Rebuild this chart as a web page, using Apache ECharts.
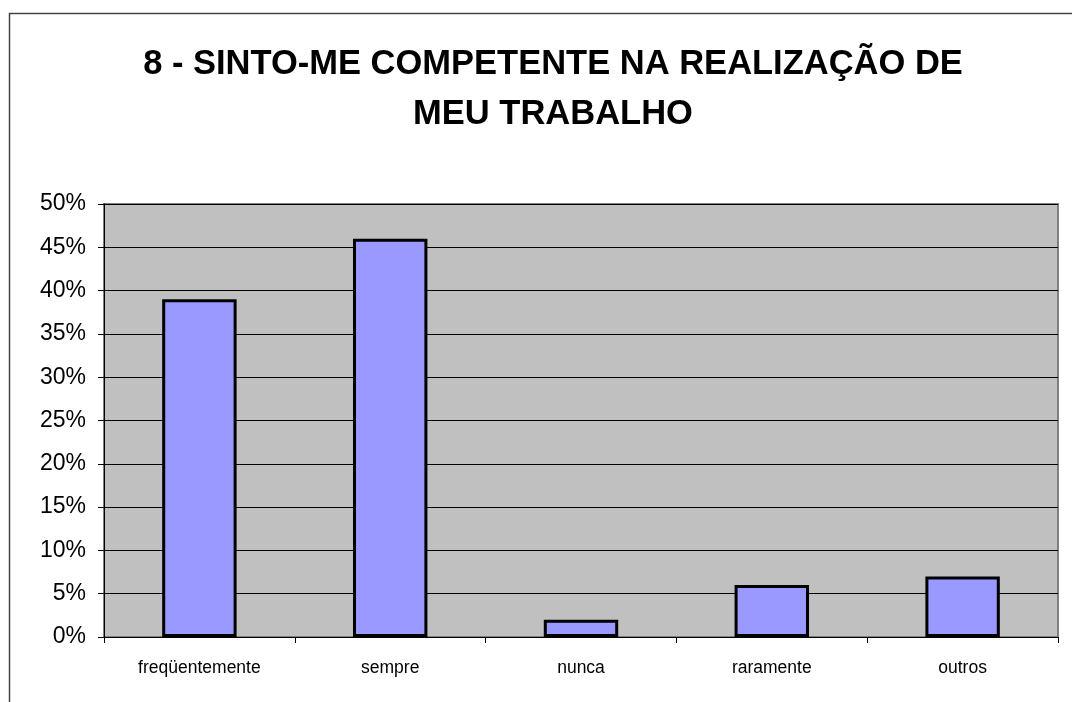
<!DOCTYPE html>
<html>
<head>
<meta charset="utf-8">
<script src="https://cdn.jsdelivr.net/npm/echarts@6/dist/echarts.min.js"></script>
<style>
  html, body { margin: 0; padding: 0; background: #fff; }
  #chart { width: 1072px; height: 702px; }
</style>
</head>
<body>
<div id="chart"></div>
<script>
const titleText = '8 - SINTO-ME COMPETENTE NA REALIZAÇÃO DE\nMEU TRABALHO'
const categories = ['freqüentemente', 'sempre', 'nunca', 'raramente', 'outros']
const values = [39, 46, 2, 6, 7]

const chart = echarts.init(document.getElementById('chart'))

chart.setOption({
  animation: false,
  backgroundColor: '#fff',
  textStyle: { fontFamily: 'Liberation Sans, Arial, sans-serif' },
  title: {
    text: titleText,
    left: 548,
    top: 34,
    textAlign: 'center',
    textStyle: {
      fontFamily: 'Liberation Sans, Arial, sans-serif',
      fontSize: 34.5,
      fontWeight: 'bold',
      color: '#000',
      lineHeight: 50
    }
  },
  graphic: [
    {
      type: 'rect',
      shape: { x: 9.5, y: 13.5, width: 1080, height: 720 },
      style: { fill: 'none', stroke: '#444', lineWidth: 1.5 },
      silent: true
    }
  ],
  grid: {
    left: 104,
    right: 14,
    top: 204,
    bottom: 65,
    show: true,
    backgroundColor: '#c0c0c0',
    borderColor: '#808080',
    borderWidth: 2
  },
  xAxis: {
    type: 'category',
    data: categories,
    axisLine: { show: true, lineStyle: { color: '#000', width: 1 } },
    axisTick: { show: true, length: 6, alignWithLabel: false, lineStyle: { color: '#000' } },
    axisLabel: { color: '#000', fontSize: 17.5, margin: 22 },
    splitLine: { show: false }
  },
  yAxis: {
    type: 'value',
    min: 0,
    max: 50,
    interval: 5,
    axisLine: { show: true, lineStyle: { color: '#000', width: 1 } },
    axisTick: { show: true, length: 6, lineStyle: { color: '#000' } },
    axisLabel: { color: '#000', fontSize: 23, margin: 18, formatter: '{value}%' },
    splitLine: { show: true, lineStyle: { color: '#000', width: 1 } }
  },
  series: [
    {
      type: 'bar',
      data: values,
      barWidth: '39%',
      itemStyle: { color: '#9999ff', borderColor: '#000', borderWidth: 3 }
    }
  ]
})
</script>
</body>
</html>
